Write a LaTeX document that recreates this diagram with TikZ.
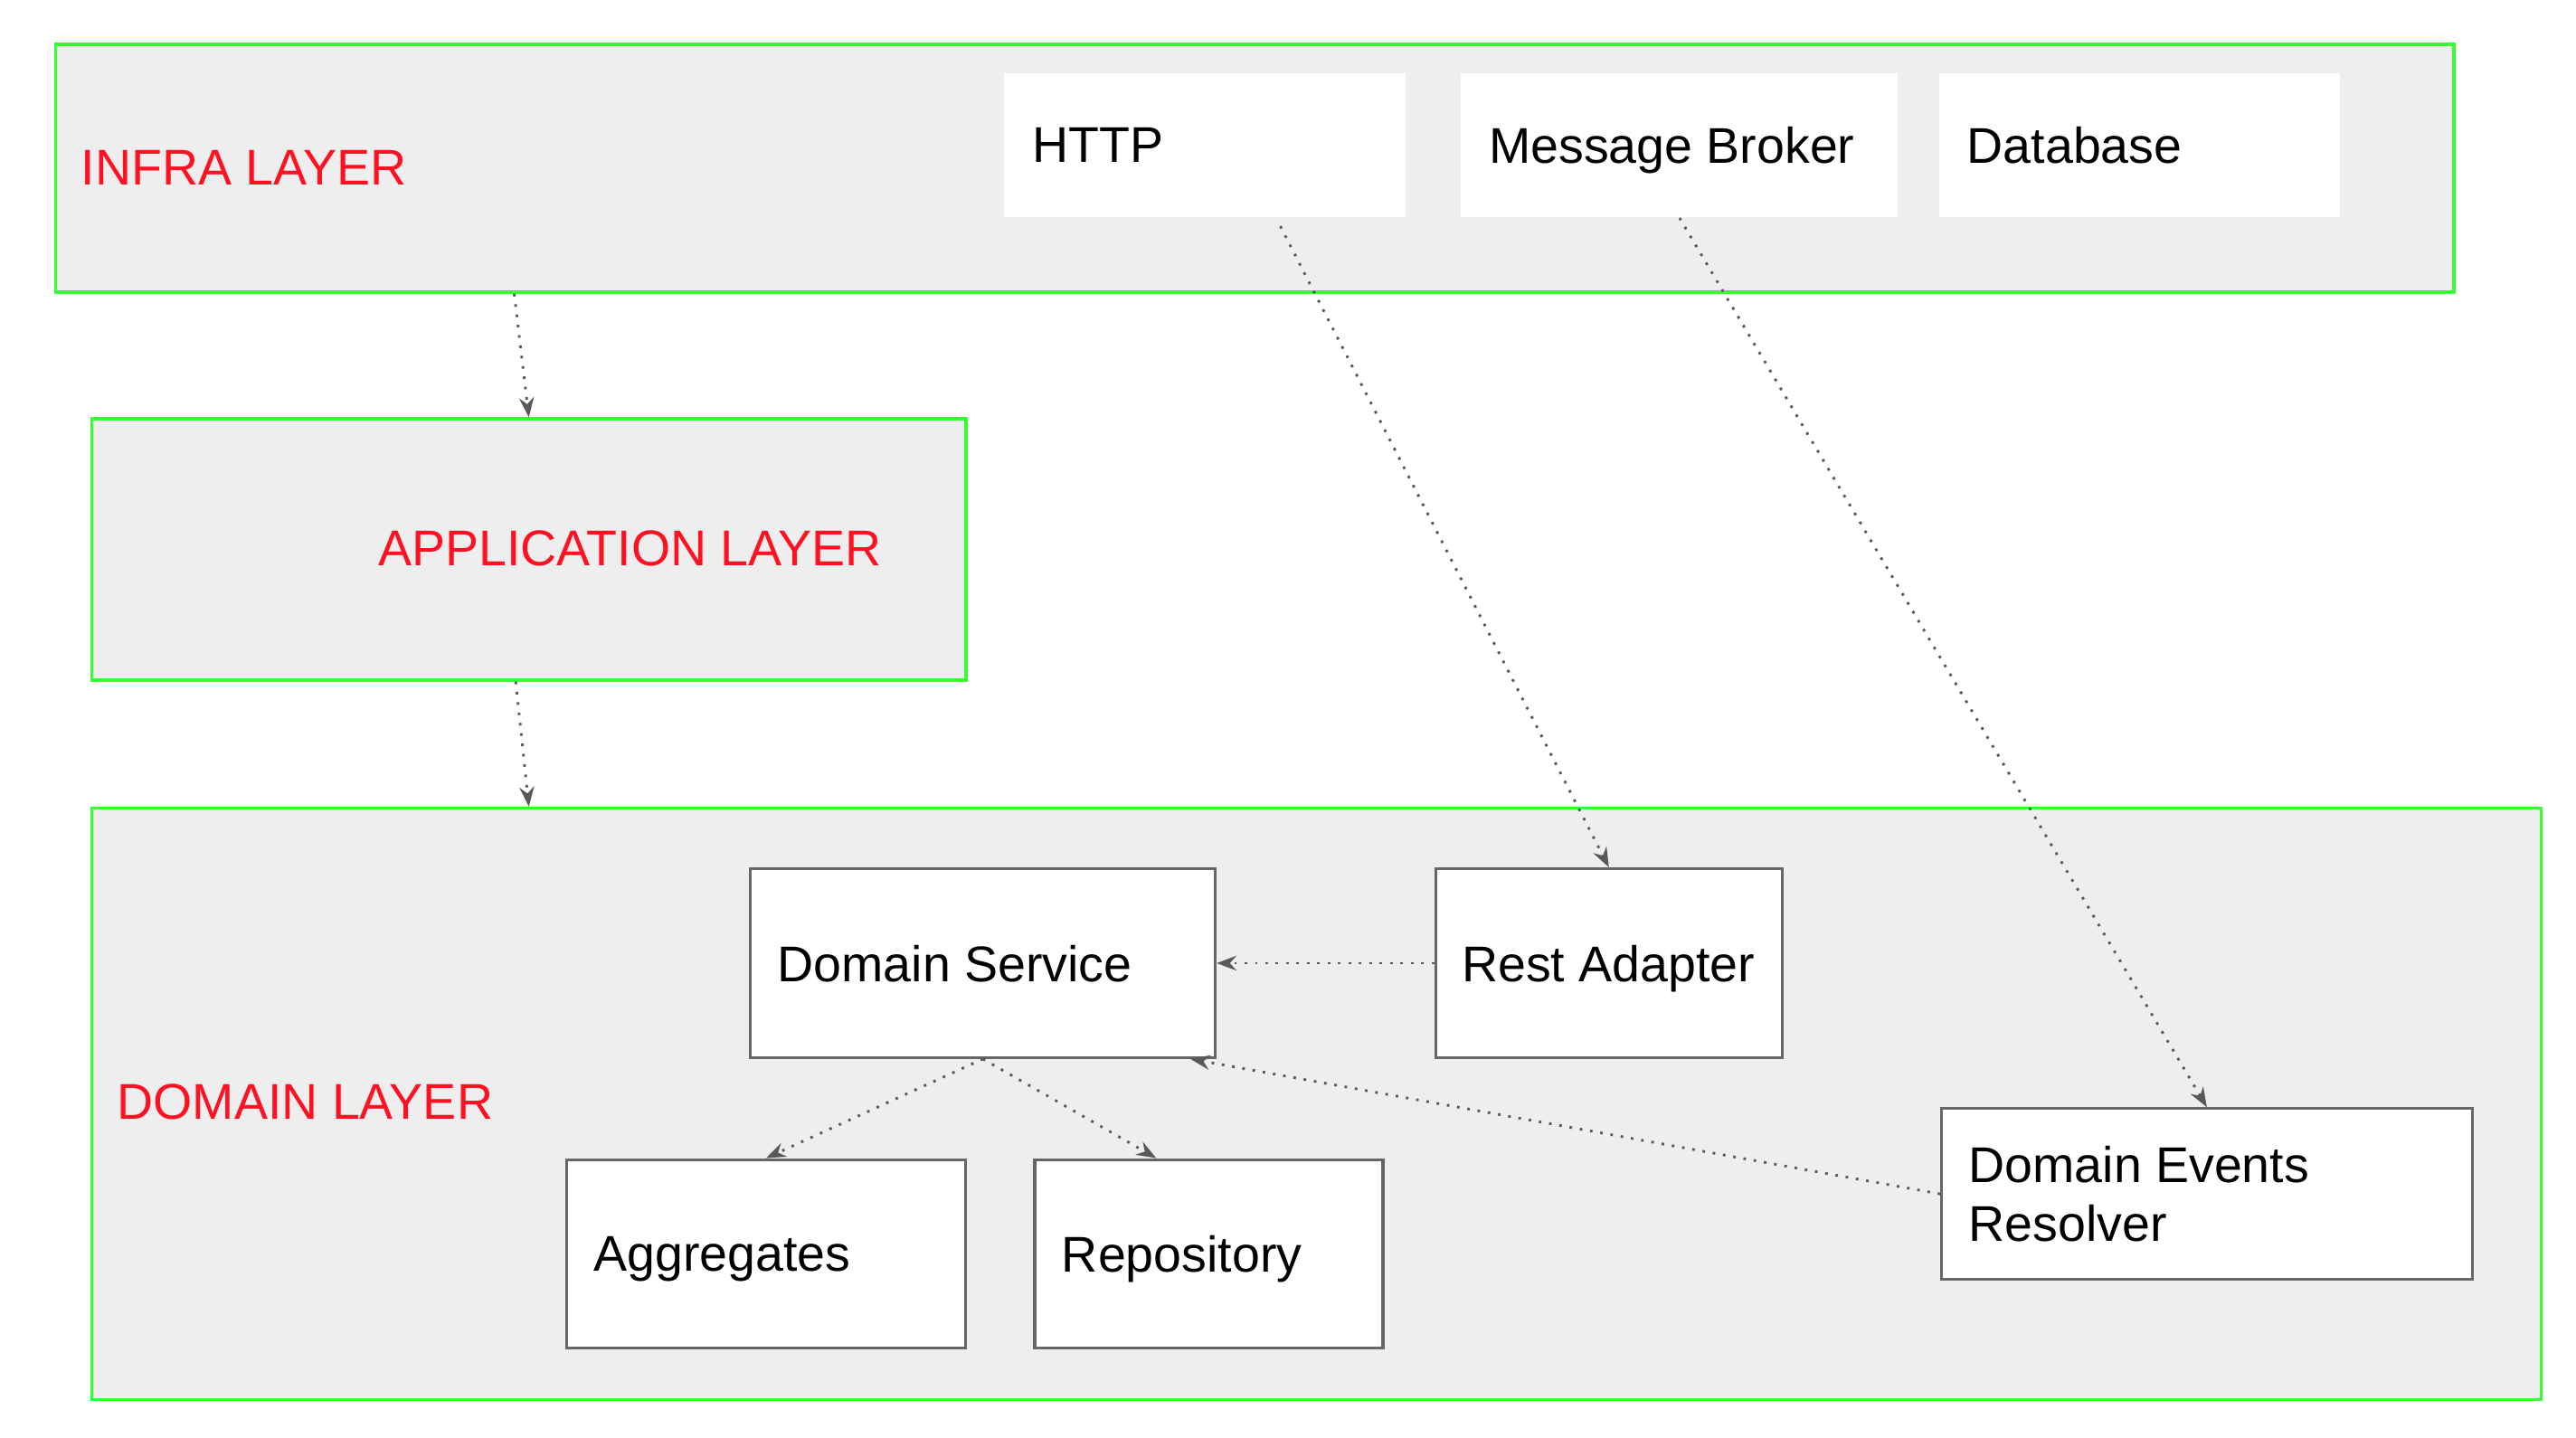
\documentclass[tikz,border=0pt]{standalone}
\usepackage{fontspec}
\setmainfont{Liberation Sans}
\usepackage{xcolor}
\usepackage{tikz}
\usetikzlibrary{arrows.meta,calc}
\usetikzlibrary{positioning}
\definecolor{layerfill}{HTML}{EEEEEE}
\definecolor{layergreen}{HTML}{33FF33}
\definecolor{layerred}{HTML}{FF1122}
\definecolor{boxgray}{HTML}{666666}
\definecolor{depgray}{HTML}{595959}
\newcommand{\diagfont}{\fontsize{17.4}{20.5}\selectfont}

\tikzset{
	layer/.style={draw=layergreen, fill=layerfill, line width=1.1pt, anchor=north west, inner sep=0pt},
	layertext/.style={text=layerred, anchor=west, inner sep=0pt, font=\diagfont},
	infrabox/.style={fill=white, anchor=north west, inner xsep=0.34cm, inner ysep=0pt, align=flush left, minimum height=1.76cm, text width=#1, text depth=0pt, font=\diagfont},
	box/.style={draw=boxgray, fill=white, line width=0.95pt, anchor=north west, inner xsep=0.33cm, inner ysep=0pt, align=flush left, minimum height=2.3cm, text width=#1, text depth=0pt, font=\diagfont},
	dep/.style={draw=depgray, line width=0.9pt, dash pattern=on 0.9pt off 2.7pt, -{Stealth[length=0.24cm, width=0.18cm, inset=0.08cm]}}
}

\begin{document}
\begin{tikzpicture}[x=0.02cm, y=-0.02cm]
	\useasboundingbox[fill=white] (0,0) rectangle (1568,875);
	% The layers:
	\node[layer, minimum width=29.2cm, minimum height=3.02cm] (infra) at (33,26) {};
	\node[layer, minimum width=10.64cm, minimum height=3.18cm] (app) at (55,254) {};
	\node[layer, minimum width=29.82cm, minimum height=7.2cm] (domain) at (55,491) {};
	\node[layertext] (infratext) at (49,102) {INFRA LAYER};
	\node[layertext] (apptext) at (230,334) {APPLICATION LAYER};
	\node[layertext] (domaintext) at (71,671) {DOMAIN LAYER};
	% Infra parts:
	\node[infrabox=4.2cm] (http) at (611,44) {HTTP};
	\node[infrabox=4.64cm] (broker) at (889,44) {Message Broker};
	\node[infrabox=4.2cm] (db) at (1180,44) {Database};
	% Domain parts:
	\node[box=5.0cm] (ds) at (456,528) {Domain Service};
	\node[box=3.58cm, inner xsep=0.32cm] (rest) at (873,528) {Rest~Adapter};
	\node[box=4.2cm] (agg) at (344,705) {Aggregates};
	\node[box=3.58cm] (repo) at (629,705) {Repository};
	\node[box=5.8cm, minimum height=2.08cm, text depth={}] (der) at (1181,674) {Domain Events\\Resolver};
	% Dependencies:
	\draw[dep] ($(infra.south west)+(280,0)$) -- (app.north);
	\draw[dep] ($(app.south)+(-8,0)$) -- (app.south |- domain.north);
	\draw[dep] ($(http.south)+(46,5)$) -- (rest.north);
	\draw[dep] (broker.south) -- (der.north);
	\draw[dep] (rest.west) -- (ds.east);
	\draw[dep] (der.west) -- ($(ds.south east)+(-16,0)$);
	\draw[dep] (ds.south) -- (agg.north);
	\draw[dep] (ds.south) -- ($(repo.north)+(-32,0)$);
\end{tikzpicture}
\end{document}
